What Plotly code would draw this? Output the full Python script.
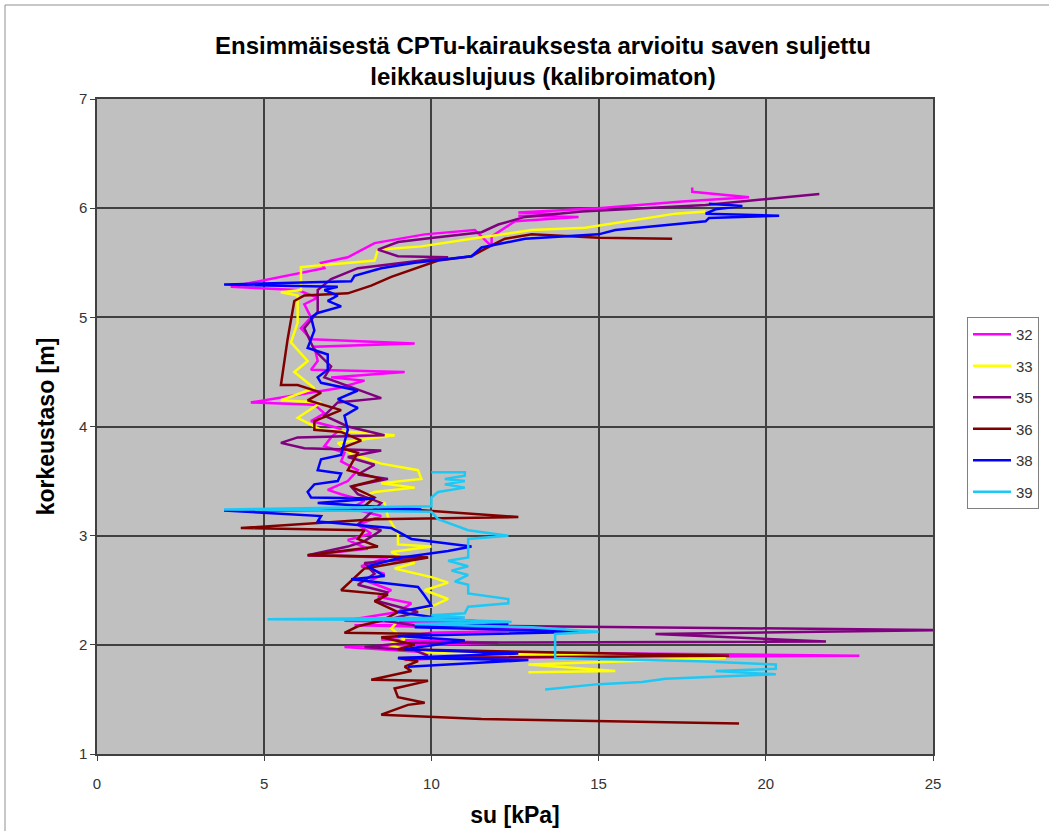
import plotly.graph_objects as go

# ---- data (su [kPa], elevation [m]) ----
names = ["32", "33", "35", "36", "38", "39"]
colors = ["#FF00FF", "#FFFF00", "#800080", "#800000", "#0000FF", "#1EC8F5"]

su_32 = [17.8, 17.8, 19.5, 17.5, 15.0, 12.6, 13.8, 12.6, 14.4, 12.5, 11.8, 11.8, 11.3, 9.8, 8.3, 7.5, 6.7, 6.8, 4.0, 6.0, 6.6, 6.2, 6.4, 6.1,
         6.4, 9.5, 6.5, 6.6, 6.4, 9.2, 7.0, 8.0, 7.2, 4.6, 6.5, 6.8, 6.4, 7.3, 7.0, 6.8, 7.4, 7.3, 7.8, 7.5, 6.9, 7.3, 8.0,
         7.6, 8.5, 7.8, 8.2, 7.5, 8.1, 6.3, 8.7, 7.9, 8.6, 8.1, 8.8, 8.4, 9.4, 9.0, 7.4, 11.5, 7.7, 14.0, 10.0, 8.5, 12.0,
         7.4, 9.5, 22.8, 15.0, 10.5, 9.2]
el_32 = [6.19, 6.15, 6.10, 6.06, 6.00, 5.96, 5.95, 5.93, 5.92, 5.88, 5.74, 5.65, 5.80, 5.76, 5.68, 5.55, 5.50, 5.45, 5.28, 5.25, 5.18, 5.12, 5.00, 4.90,
         4.80, 4.76, 4.73, 4.60, 4.52, 4.50, 4.45, 4.42, 4.35, 4.22, 4.20, 4.12, 4.05, 3.98, 3.90, 3.82, 3.76, 3.68, 3.60, 3.50, 3.42, 3.38, 3.32,
         3.25, 3.18, 3.10, 3.02, 2.96, 2.88, 2.82, 2.80, 2.72, 2.65, 2.58, 2.50, 2.44, 2.38, 2.30, 2.22, 2.20, 2.18, 2.14, 2.11, 2.05, 2.02,
         1.98, 1.94, 1.90, 1.89, 1.88, 1.86]

su_33 = [18.2, 17.3, 14.6, 13.0, 11.2, 9.7, 8.4, 8.3, 6.1, 6.1, 5.5, 6.0, 6.0, 5.8, 6.3, 5.9, 6.5, 5.5, 6.7, 6.0, 6.7, 7.5, 8.9, 7.2,
         7.6, 8.5, 9.6, 9.7, 8.5, 9.5, 8.3, 7.9, 8.6, 8.7, 9.0, 9.0, 10.0, 8.8, 9.5, 8.9, 10.0, 10.5, 9.8, 10.5, 10.0, 9.5,
         9.0, 8.8, 9.2, 8.7, 9.1, 10.0, 18.8, 12.9, 15.5, 12.9]
el_33 = [5.97, 5.95, 5.82, 5.80, 5.72, 5.65, 5.62, 5.52, 5.46, 5.25, 5.23, 5.20, 4.95, 4.77, 4.60, 4.50, 4.35, 4.24, 4.22, 4.08, 3.97, 3.95, 3.92, 3.85,
         3.75, 3.66, 3.60, 3.52, 3.48, 3.44, 3.40, 3.35, 3.30, 3.17, 3.02, 2.92, 2.90, 2.85, 2.75, 2.70, 2.62, 2.57, 2.50, 2.42, 2.35, 2.32,
         2.22, 2.15, 2.05, 2.00, 1.97, 1.93, 1.88, 1.82, 1.76, 1.75]

su_35 = [21.6, 19.5, 18.2, 14.5, 12.8, 12.0, 11.5, 9.8, 9.0, 8.4, 9.0, 10.5, 7.8, 7.0, 6.6, 6.6, 6.2, 6.5, 7.0, 6.8, 8.5, 7.2,
         6.8, 7.5, 8.6, 6.0, 5.5, 6.2, 8.5, 7.5, 8.3, 7.8, 8.7, 7.6, 7.8, 8.5, 7.8, 8.5, 8.0, 7.5, 6.3, 9.9, 8.0, 8.3, 7.8,
         8.7, 8.4, 9.6, 8.6, 9.5, 25.5, 16.7, 21.8, 9.3, 8.0, 9.5, 9.9]
el_35 = [6.13, 6.07, 6.03, 5.97, 5.92, 5.85, 5.78, 5.72, 5.69, 5.62, 5.56, 5.55, 5.45, 5.35, 5.25, 5.05, 4.90, 4.70, 4.55, 4.45, 4.26, 4.22,
         4.10, 4.00, 3.92, 3.90, 3.85, 3.80, 3.78, 3.72, 3.65, 3.56, 3.52, 3.45, 3.38, 3.30, 3.10, 3.05, 2.95, 2.90, 2.82, 2.80, 2.75, 2.65, 2.55,
         2.48, 2.40, 2.30, 2.22, 2.18, 2.135, 2.10, 2.03, 2.02, 1.98, 1.95, 1.90]

su_36 = [17.2, 15.0, 13.0, 12.2, 11.8, 11.2, 10.2, 9.3, 8.8, 8.2, 7.5, 6.2, 5.9, 5.7, 5.5, 6.0, 6.7, 6.3, 7.3, 6.5, 6.5, 7.3,
         7.9, 7.3, 7.8, 7.5, 8.5, 7.6, 8.3, 8.0, 12.6, 8.3, 4.3, 8.0, 7.8, 8.4, 6.3, 9.9, 8.0, 7.3, 8.7, 8.3, 9.0, 8.5,
         7.8, 7.4, 10.0, 8.5, 9.5, 9.0, 18.9, 9.0, 9.6, 9.2, 9.4, 8.2, 9.9, 8.9, 9.0, 9.8, 9.3, 8.5, 11.5, 19.2]
el_36 = [5.72, 5.73, 5.76, 5.72, 5.66, 5.56, 5.52, 5.42, 5.37, 5.29, 5.22, 5.20, 5.15, 4.80, 4.38, 4.38, 4.31, 4.24, 4.15, 4.05, 3.97, 3.95,
         3.87, 3.80, 3.76, 3.60, 3.52, 3.45, 3.35, 3.27, 3.17, 3.15, 3.07, 3.05, 2.97, 2.90, 2.82, 2.80, 2.70, 2.50, 2.46, 2.40, 2.30, 2.22,
         2.17, 2.11, 2.10, 2.07, 2.00, 1.96, 1.90, 1.88, 1.85, 1.80, 1.76, 1.68, 1.67, 1.60, 1.52, 1.47, 1.45, 1.36, 1.32, 1.28]

su_38 = [18.3, 19.3, 18.5, 18.2, 20.4, 18.3, 18.2, 15.5, 15.0, 12.8, 11.5, 11.2, 9.5, 8.5, 7.7, 7.6, 3.8, 7.2, 6.8, 7.2, 6.9, 7.3,
         6.6, 6.4, 6.5, 6.3, 6.9, 6.9, 6.6, 6.7, 7.8, 7.2, 7.8, 7.4, 7.5, 7.4, 7.3, 6.7, 6.6, 7.3, 7.2, 6.5, 6.3, 6.4, 8.3,
         6.6, 9.7, 3.8, 6.7, 6.6, 8.8, 9.4, 11.2, 10.5, 9.1, 8.1, 8.6, 7.6, 9.6, 9.8, 10.0, 9.0, 10.1, 12.3, 9.5, 14.7,
         9.0, 11.0, 9.2, 12.6, 9.0, 12.9, 10.6, 9.3]
el_38 = [6.04, 6.02, 5.99, 5.95, 5.93, 5.91, 5.88, 5.80, 5.76, 5.72, 5.64, 5.56, 5.50, 5.45, 5.38, 5.33, 5.30, 5.28, 5.25, 5.20, 5.15, 5.10,
         5.04, 5.00, 4.88, 4.72, 4.66, 4.52, 4.45, 4.40, 4.33, 4.25, 4.17, 4.10, 3.97, 3.86, 3.74, 3.70, 3.60, 3.57, 3.50, 3.47, 3.40, 3.35, 3.34,
         3.30, 3.24, 3.23, 3.18, 3.13, 3.07, 2.97, 2.90, 2.86, 2.80, 2.72, 2.63, 2.60, 2.53, 2.45, 2.36, 2.30, 2.25, 2.19, 2.16, 2.12,
         2.08, 2.04, 1.96, 1.92, 1.88, 1.86, 1.82, 1.80]

su_39 = [10.0, 11.0, 11.0, 10.4, 11.0, 10.4, 11.0, 10.2, 10.0, 10.0, 3.8, 10.0, 10.2, 11.1, 12.3, 11.1, 11.1, 10.5, 11.1, 10.6,
         11.1, 10.7, 11.1, 11.1, 12.3, 12.3, 11.1, 11.0, 10.0, 11.0, 5.1, 11.0, 12.4, 9.5, 13.0, 15.0, 13.7, 13.7, 18.0,
         20.3, 20.3, 18.5, 20.3, 17.0, 16.3, 15.0, 13.4]
el_39 = [3.58, 3.58, 3.55, 3.52, 3.50, 3.47, 3.44, 3.40, 3.35, 3.27, 3.24, 3.22, 3.15, 3.05, 3.00, 2.97, 2.80, 2.77, 2.72, 2.68,
         2.64, 2.58, 2.55, 2.47, 2.42, 2.38, 2.35, 2.29, 2.27, 2.25, 2.235, 2.225, 2.21, 2.19, 2.16, 2.12, 2.10, 1.88, 1.85,
         1.82, 1.78, 1.76, 1.73, 1.69, 1.66, 1.64, 1.59]

series = [(su_32, el_32), (su_33, el_33), (su_35, el_35), (su_36, el_36), (su_38, el_38), (su_39, el_39)]

x_ticks = [0, 5, 10, 15, 20, 25]
y_ticks = [1, 2, 3, 4, 5, 6, 7]

title_text = "Ensimmäisestä CPTu-kairauksesta arvioitu saven suljettu<br>leikkauslujuus (kalibroimaton)"
x_title = "su [kPa]"
y_title = "korkeustaso [m]"

FONT = "Liberation Sans, Arial, sans-serif"
GRID = "#404040"

fig = go.Figure()
for i, (name, col, (xs, ys)) in enumerate(zip(names, colors, series)):
    fig.add_trace(go.Scatter(
        x=xs, y=ys, mode="lines", name=name,
        line=dict(color=col, width=2.5),
        legendgroup=name,
    ))

fig.update_layout(
    width=1049, height=831,
    margin=dict(l=97, r=116, t=99, b=77, autoexpand=False),
    paper_bgcolor="white",
    plot_bgcolor="#C0C0C0",
    title=dict(text=title_text, x=(543 - 97) / 836, xref="paper", xanchor="center",
               y=1 - 54 / 831, yanchor="middle",
               font=dict(family=FONT, size=24, color="black", weight="bold")),
    showlegend=True,
    legend=dict(x=(967 - 97) / 836, y=(754 - 317) / 655, xanchor="left", yanchor="top",
                bgcolor="white", bordercolor="#808080", borderwidth=1,
                font=dict(family=FONT, size=15, color="#333"),
                tracegroupgap=9, itemwidth=38),
    font=dict(family=FONT),
)

fig.update_xaxes(range=[0, 25], tickvals=x_ticks, showgrid=True, gridcolor=GRID, gridwidth=1.5,
                 zeroline=False, showline=True, linecolor=GRID, linewidth=1.5, mirror=True,
                 ticks="outside", ticklen=5, tickcolor=GRID, ticklabelstandoff=10, automargin=False,
                 tickfont=dict(family=FONT, size=15, color="#333"),
                 title=dict(text=x_title, font=dict(family=FONT, size=23, color="black", weight="bold"), standoff=16))
fig.update_yaxes(range=[1, 7], tickvals=y_ticks, showgrid=True, gridcolor=GRID, gridwidth=1.5,
                 zeroline=False, showline=True, linecolor=GRID, linewidth=1.5, mirror=True,
                 ticks="outside", ticklen=5, tickcolor=GRID, automargin=False,
                 tickfont=dict(family=FONT, size=15, color="#333"),
                 title=dict(text=y_title, font=dict(family=FONT, size=23, color="black", weight="bold"), standoff=18))

# outer chart-area border
fig.add_shape(type="rect", xref="paper", yref="paper",
              x0=(5 - 97) / 836, x1=(1060 - 97) / 836, y0=(754 - 840) / 655, y1=(754 - 5) / 655,
              line=dict(color="#909090", width=1), fillcolor="rgba(0,0,0,0)", layer="below")

fig.write_html("out.html")
